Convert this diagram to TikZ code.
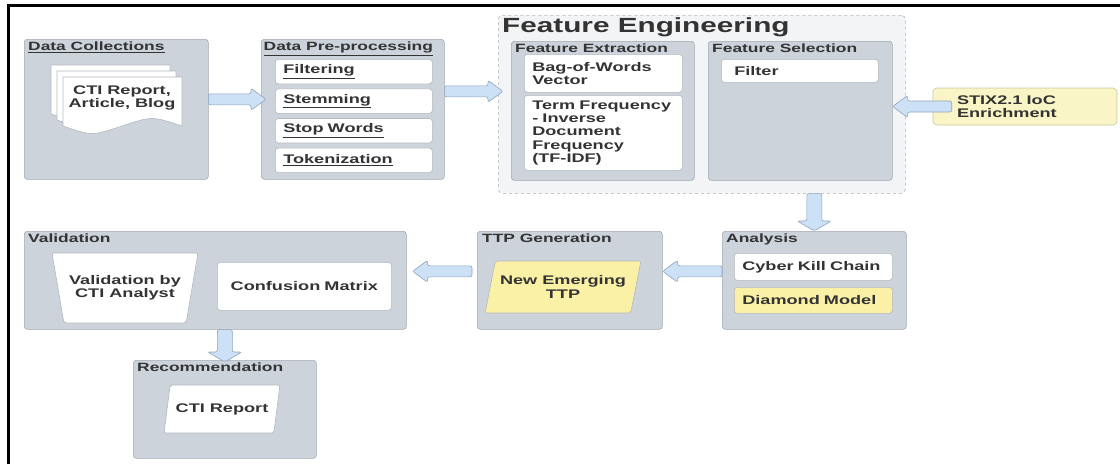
\documentclass[tikz,border=0pt]{standalone}
\usepackage{fontspec}
\setmainfont{Liberation Sans}[FakeStretch=1.45]
\usetikzlibrary{positioning, calc, shapes.geometric}

\definecolor{grpfill}{HTML}{CDD3DB}
\definecolor{grpedge}{HTML}{A2A9B2}
\definecolor{fefill}{HTML}{F3F4F5}
\definecolor{feedge}{HTML}{B0B0B0}
\definecolor{itemedge}{HTML}{B4B9BF}
\definecolor{hlyellow}{HTML}{FBF1A6}
\definecolor{stixyellow}{HTML}{FAF5C6}
\definecolor{stixedge}{HTML}{C9C5A0}
\definecolor{arrowfill}{HTML}{CCE0F6}
\definecolor{arrowedge}{HTML}{8EA4BF}
\definecolor{txtcol}{HTML}{333333}

\newcommand{\titlefont}{\fontsize{12}{13}\selectfont\bfseries}
\newcommand{\itemfont}{\fontsize{12.5}{13.3}\selectfont\bfseries}

\tikzset{
  grp/.style={draw=grpedge, fill=grpfill, line width=0.6pt, rounded corners=3pt,
    anchor=north west, inner sep=0pt},
  wh/.style 2 args={minimum width=#1pt, minimum height=#2pt},
  grptitle/.style={anchor=north west, inner sep=0pt, text=txtcol, font=\titlefont},
  item/.style={draw=itemedge, fill=white, line width=0.6pt, rounded corners=3pt,
    text=txtcol, font=\itemfont, align=left, inner xsep=8pt, inner ysep=0pt,
    text width=141pt, minimum height=24.5pt, anchor=north west},
  hl/.style={fill=hlyellow},
  slanted/.style={trapezium, trapezium stretches=true, draw=itemedge, fill=white,
    line width=0.6pt, rounded corners=2pt, text=txtcol, font=\itemfont, align=center},
  page/.style={draw=itemedge, fill=white, line width=0.6pt},
  fatarrow/.style n args={3}{draw=arrowedge, fill=arrowfill, line width=0.6pt,
    rounded corners=2pt, to path={
      ($(\tikztostart)!#1!90:(\tikztotarget)$)
      -- ($($(\tikztotarget)!#3!(\tikztostart)$)!#1!-90:(\tikztostart)$)
      -- ($($(\tikztotarget)!#3!(\tikztostart)$)!#2!-90:(\tikztostart)$)
      -- (\tikztotarget)
      -- ($($(\tikztotarget)!#3!(\tikztostart)$)!#2!90:(\tikztostart)$)
      -- ($($(\tikztotarget)!#3!(\tikztostart)$)!#1!90:(\tikztostart)$)
      -- ($(\tikztostart)!#1!-90:(\tikztotarget)$) -- cycle}},
  harrow/.style={fatarrow={5.5pt}{11pt}{15pt}},
  varrow/.style={fatarrow={7.5pt}{17pt}{10pt}}
}

\begin{document}
\begin{tikzpicture}[x=1pt, y=-1pt]
  \useasboundingbox (0,0) rectangle (1120,464);
  \draw[line width=2.4pt] (8.5,464) -- (8.5,5.6) -- (1120,5.6);

  % first row
  \node[grp, wh={184}{140}] (dcol) at (24,39) {};
  \node[grptitle, below right=3pt and 4pt of dcol.north west] (dcol_t) {\underline{Data Collections}};
  \foreach \o in {12,6,0}
    \draw[page] ({63-\o},{77-\o}) -- ({182-\o},{77-\o}) -- ({182-\o},{126-\o})
      .. controls ({152-\o},{116-\o}) .. ({122-\o},{126-\o})
      .. controls ({92-\o},{136-\o}) .. ({63-\o},{126-\o}) -- cycle;
  \node[text=txtcol, font=\itemfont, align=center] (docs) at (122,98) {CTI Report,\\Article, Blog};

  \node[grp, wh={183}{140}] (dpre) at (261,39) {};
  \node[grptitle, below right=3pt and 2.5pt of dpre.north west] (dpre_t) {\underline{Data Pre-processing}};
  \node[item] (filt) at (275,59) {\underline{Filtering}};
  \node[item, below=4.5pt of filt] (stem) {\underline{Stemming}};
  \node[item, below=4.5pt of stem] (stop) {\underline{Stop Words}};
  \node[item, below=4.5pt of stop] (tok) {\underline{Tokenization}};

  \node[grp, wh={407}{178}, fill=fefill, draw=feedge, dashed, rounded corners=4pt] (febox) at (498,15) {};
  \node[grptitle, font=\fontsize{20.5}{22}\selectfont\bfseries, below right=2pt and 4pt of febox.north west] (febox_t) {Feature Engineering};
  \node[grp, wh={183}{139}] (fext) at (511,41) {};
  \node[grptitle, below right=3pt and 4pt of fext.north west] (fext_t) {Feature Extraction};
  \node[item, text width=142pt, minimum height=38pt] (bow) at (524,54) {Bag-of-Words\\Vector};
  \node[item, text width=142pt, minimum height=75pt] (tfidf) at (524,95) {Term Frequency\\- Inverse\\Document\\Frequency\\(TF-IDF)};
  \node[grp, wh={184}{139}] (fsel) at (708,41) {};
  \node[grptitle, below right=3pt and 4pt of fsel.north west] (fsel_t) {Feature Selection};
  \node[item, inner xsep=13pt, text width=131pt, minimum height=23pt] (filter) at (721,59) {Filter};

  \node[draw=stixedge, fill=stixyellow, line width=0.6pt, rounded corners=4pt, minimum height=37pt,
    inner xsep=24pt, text width=136pt, text=txtcol, font=\itemfont, align=left] (stix) at (1025,106.5) {STIX2.1 IoC\\Enrichment};

  % second row
  \node[grp, wh={184}{98}] (anal) at (722,231) {};
  \node[grptitle, below right=3pt and 4pt of anal.north west] (anal_t) {Analysis};
  \node[item, text width=142pt, minimum height=27pt] (ckc) at (734,253) {Cyber Kill Chain};
  \node[item, hl, text width=142pt, minimum height=26pt] (dmod) at (734,287) {Diamond Model};

  \node[grp, wh={185}{98}] (ttpg) at (477,231) {};
  \node[grptitle, below right=3pt and 5pt of ttpg.north west] (ttpg_t) {TTP Generation};
  \node[slanted, hl, trapezium left angle=71, trapezium right angle=109,
    minimum width=156pt, minimum height=52pt] (newttp) at (563,287) {New Emerging\\TTP};

  \node[grp, wh={382}{98}] (valid) at (24,231) {};
  \node[grptitle, below right=3pt and 4pt of valid.north west] (valid_t) {Validation};
  \node[slanted, shape border rotate=180, trapezium left angle=70, trapezium right angle=70,
    minimum width=146pt, minimum height=70pt] (analyst) at (125,288) {Validation by\\CTI Analyst};
  \node[item, align=center, text width=158pt, minimum height=48pt] (confm) at (217,262) {Confusion Matrix};

  \node[grp, wh={183}{98}] (recom) at (133,360) {};
  \node[grptitle, below right=3pt and 4pt of recom.north west] (recom_t) {Recommendation};
  \node[slanted, trapezium left angle=72, trapezium right angle=108,
    minimum width=116pt, minimum height=48pt] (report) at (222,409) {CTI Report};

  % arrows
  \draw[harrow] ([yshift=10pt]dcol.east) to ([xshift=5pt,yshift=10pt]dpre.west);
  \draw[harrow] ([yshift=18pt]dpre.east) to ([xshift=5pt,yshift=13pt]febox.west);
  \draw[harrow] ([xshift=19pt]stix.west) to (fsel.east |- stix.west);
  \draw[varrow] (anal.north |- febox.south) to (anal.north);
  \draw[harrow] ([yshift=9pt]anal.west) to ([yshift=9pt]ttpg.east);
  \draw[harrow] ([xshift=-5pt,yshift=9pt]ttpg.west) to ([xshift=6pt,yshift=9pt]valid.east);
  \draw[varrow] (recom.north |- valid.south) to ([yshift=-2pt]recom.north);
\end{tikzpicture}
\end{document}
